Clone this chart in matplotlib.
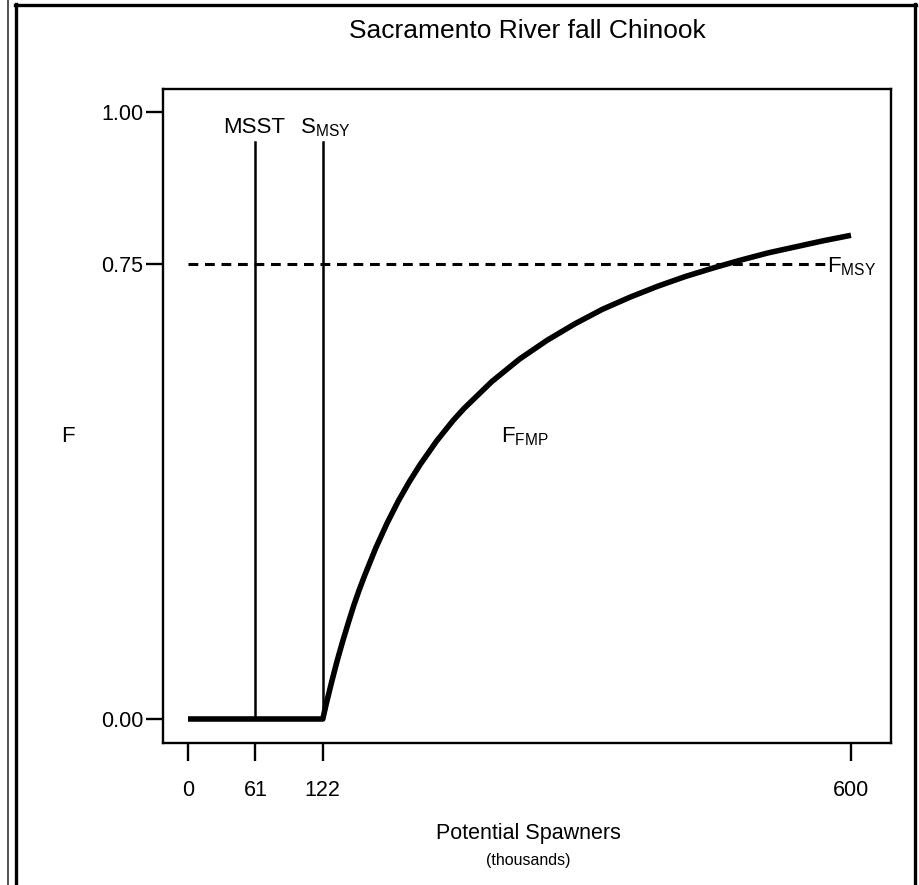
import matplotlib
matplotlib.use("Agg")
import matplotlib.pyplot as plt
from matplotlib.lines import Line2D

plt.rcParams["font.family"] = ["Liberation Sans", "DejaVu Sans"]

# reference points / thresholds (thousands of spawners)
x_ticks = [0, 61, 122, 600]
y_ticks = [0.00, 0.75, 1.00]
y_ticklabels = ["0.00", "0.75", "1.00"]
msst = 61
s_msy = 122
f_msy = 0.75

# F_FMP control rule
spawners = [0, 61, 122, 125, 130, 135, 140, 145, 150, 155, 160, 170, 180, 190,
            200, 210, 225, 240, 250, 275, 300, 325, 350, 375, 400, 425, 450,
            475, 500, 525, 550, 575, 600]
f_fmp = [0.0, 0.0, 0.0, 0.024, 0.061, 0.096, 0.128, 0.158, 0.187, 0.213, 0.237,
         0.282, 0.322, 0.358, 0.39, 0.419, 0.458, 0.492, 0.512, 0.556, 0.593,
         0.624, 0.651, 0.675, 0.695, 0.713, 0.729, 0.743, 0.756, 0.768, 0.778,
         0.788, 0.797]

fig = plt.figure(figsize=(9.19, 8.85), dpi=100)
ax = fig.add_axes([0.1774, 0.1605, 0.7921, 0.7389])

ax.plot(spawners, f_fmp, color="black", lw=4.0, solid_capstyle="butt",
        solid_joinstyle="round", zorder=3)
ax.plot([0, 577], [f_msy, f_msy], color="black", lw=2.2, ls=(0, (3.2, 2.2)))
ax.plot([msst, msst], [0, 0.95], color="black", lw=1.8)
ax.plot([s_msy, s_msy], [0, 0.95], color="black", lw=1.8)

ax.set_xlim(-22.6, 636.2)
ax.set_ylim(-0.0395, 1.038)
ax.set_xticks(x_ticks)
ax.set_xticklabels([str(v) for v in x_ticks])
ax.set_yticks(y_ticks)
ax.set_yticklabels(y_ticklabels)
ax.tick_params(axis="x", length=13, width=1.7, pad=14, labelsize=15.5, direction="out")
ax.tick_params(axis="y", length=12, width=1.7, pad=2, labelsize=15.5, direction="out")
for s in ax.spines.values():
    s.set_linewidth(1.7)

mt = {"fontsize": 16}
ax.text(msst - 1, 0.975, "MSST", ha="center", va="center", **mt)
ax.text(s_msy + 2, 0.975, r"$\mathregular{S_{MSY}}$", ha="center", va="center", **mt)
ax.text(601, 0.745, r"$\mathregular{F_{MSY}}$", ha="center", va="center", **mt)
ax.text(305, 0.465, r"$\mathregular{F_{FMP}}$", ha="center", va="center", **mt)

fig.text(68 / 919, 1 - 437 / 885, "F", ha="center", va="center", fontsize=16)
fig.text(527 / 919, 1 - 31 / 885, "Sacramento River fall Chinook",
         ha="center", va="center", fontsize=19)
fig.text(528 / 919, 1 - 833 / 885, "Potential Spawners",
         ha="center", va="center", fontsize=15.5)
fig.text(528 / 919, 1 - 860 / 885, "(thousands)",
         ha="center", va="center", fontsize=11.5)

# page frame lines around the figure
W, H = 919.0, 885.0
fig.add_artist(Line2D([8 / W, 8 / W], [0, 1], transform=fig.transFigure,
                      color="#333333", lw=1.2))
fig.add_artist(Line2D([15.5 / W, 15.5 / W], [0, 1 - 4 / H], transform=fig.transFigure,
                      color="black", lw=2.4))
fig.add_artist(Line2D([14.5 / W, 916 / W], [1 - 5 / H, 1 - 5 / H],
                      transform=fig.transFigure, color="black", lw=2.4))
fig.add_artist(Line2D([915 / W, 915 / W], [0, 1 - 4 / H], transform=fig.transFigure,
                      color="black", lw=2.4))

fig.savefig("out.png", dpi=100)
